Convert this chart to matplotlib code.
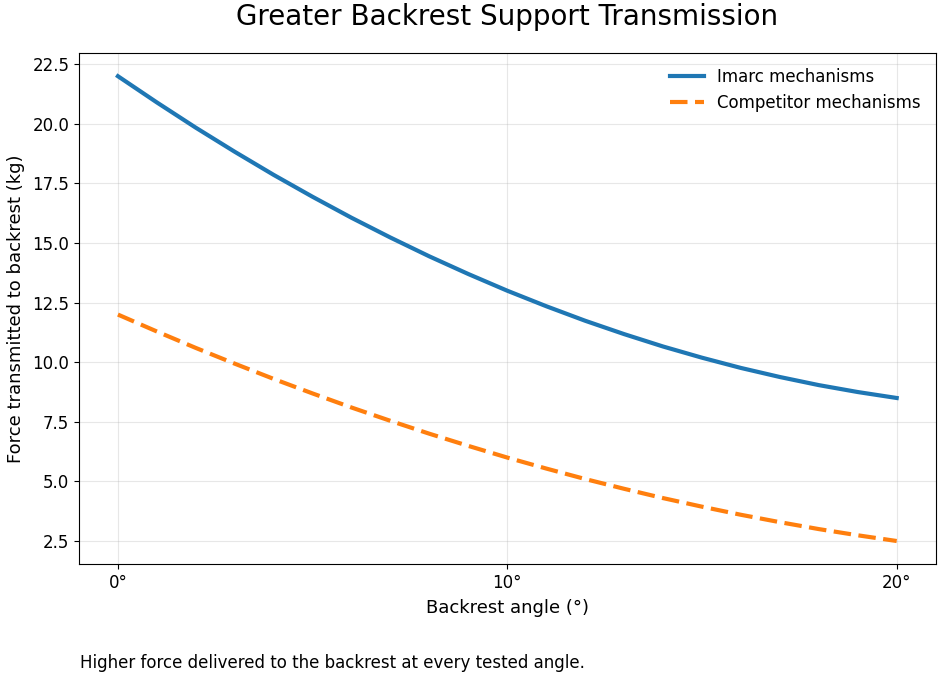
import numpy as np
import matplotlib.pyplot as plt

# backrest angle (deg) and force (kg)
angle = np.arange(0, 21)
imarc = [22.0, 20.90, 19.84, 18.83, 17.86, 16.94, 16.06, 15.23, 14.44, 13.70,
         13.00, 12.35, 11.74, 11.18, 10.66, 10.19, 9.76, 9.38, 9.04, 8.75, 8.50]
competitor = [12.0, 11.29, 10.60, 9.94, 9.30, 8.69, 8.10, 7.54, 7.00, 6.49,
              6.00, 5.54, 5.10, 4.69, 4.30, 3.94, 3.60, 3.29, 3.00, 2.74, 2.50]
xticks = [0, 10, 20]
xticklabels = ['0°', '10°', '20°']

fig = plt.figure(figsize=(9.47, 6.79), dpi=100)
ax = fig.add_axes([0.0834, 0.169, 0.9046, 0.753])

ax.plot(angle, imarc, color='#1f77b4', lw=3, label='Imarc mechanisms')
ax.plot(angle, competitor, color='#ff7f0e', lw=3, ls=(0, (4.2, 1.8)),
        label='Competitor mechanisms')

ax.set_xticks(xticks)
ax.set_xticklabels(xticklabels)
ax.tick_params(labelsize=12)
ax.grid(True, alpha=0.3)

ax.set_title('Greater Backrest Support Transmission', fontsize=20, pad=20)
ax.set_xlabel('Backrest angle (°)', fontsize=13, labelpad=5)
ax.set_ylabel('Force transmitted to backrest (kg)', fontsize=13, labelpad=5)
ax.legend(loc='upper right', frameon=False, fontsize=12)

fig.text(0.0845, 0.016, 'Higher force delivered to the backrest at every tested angle.',
         fontsize=12)

fig.savefig('out.png', dpi=100)
